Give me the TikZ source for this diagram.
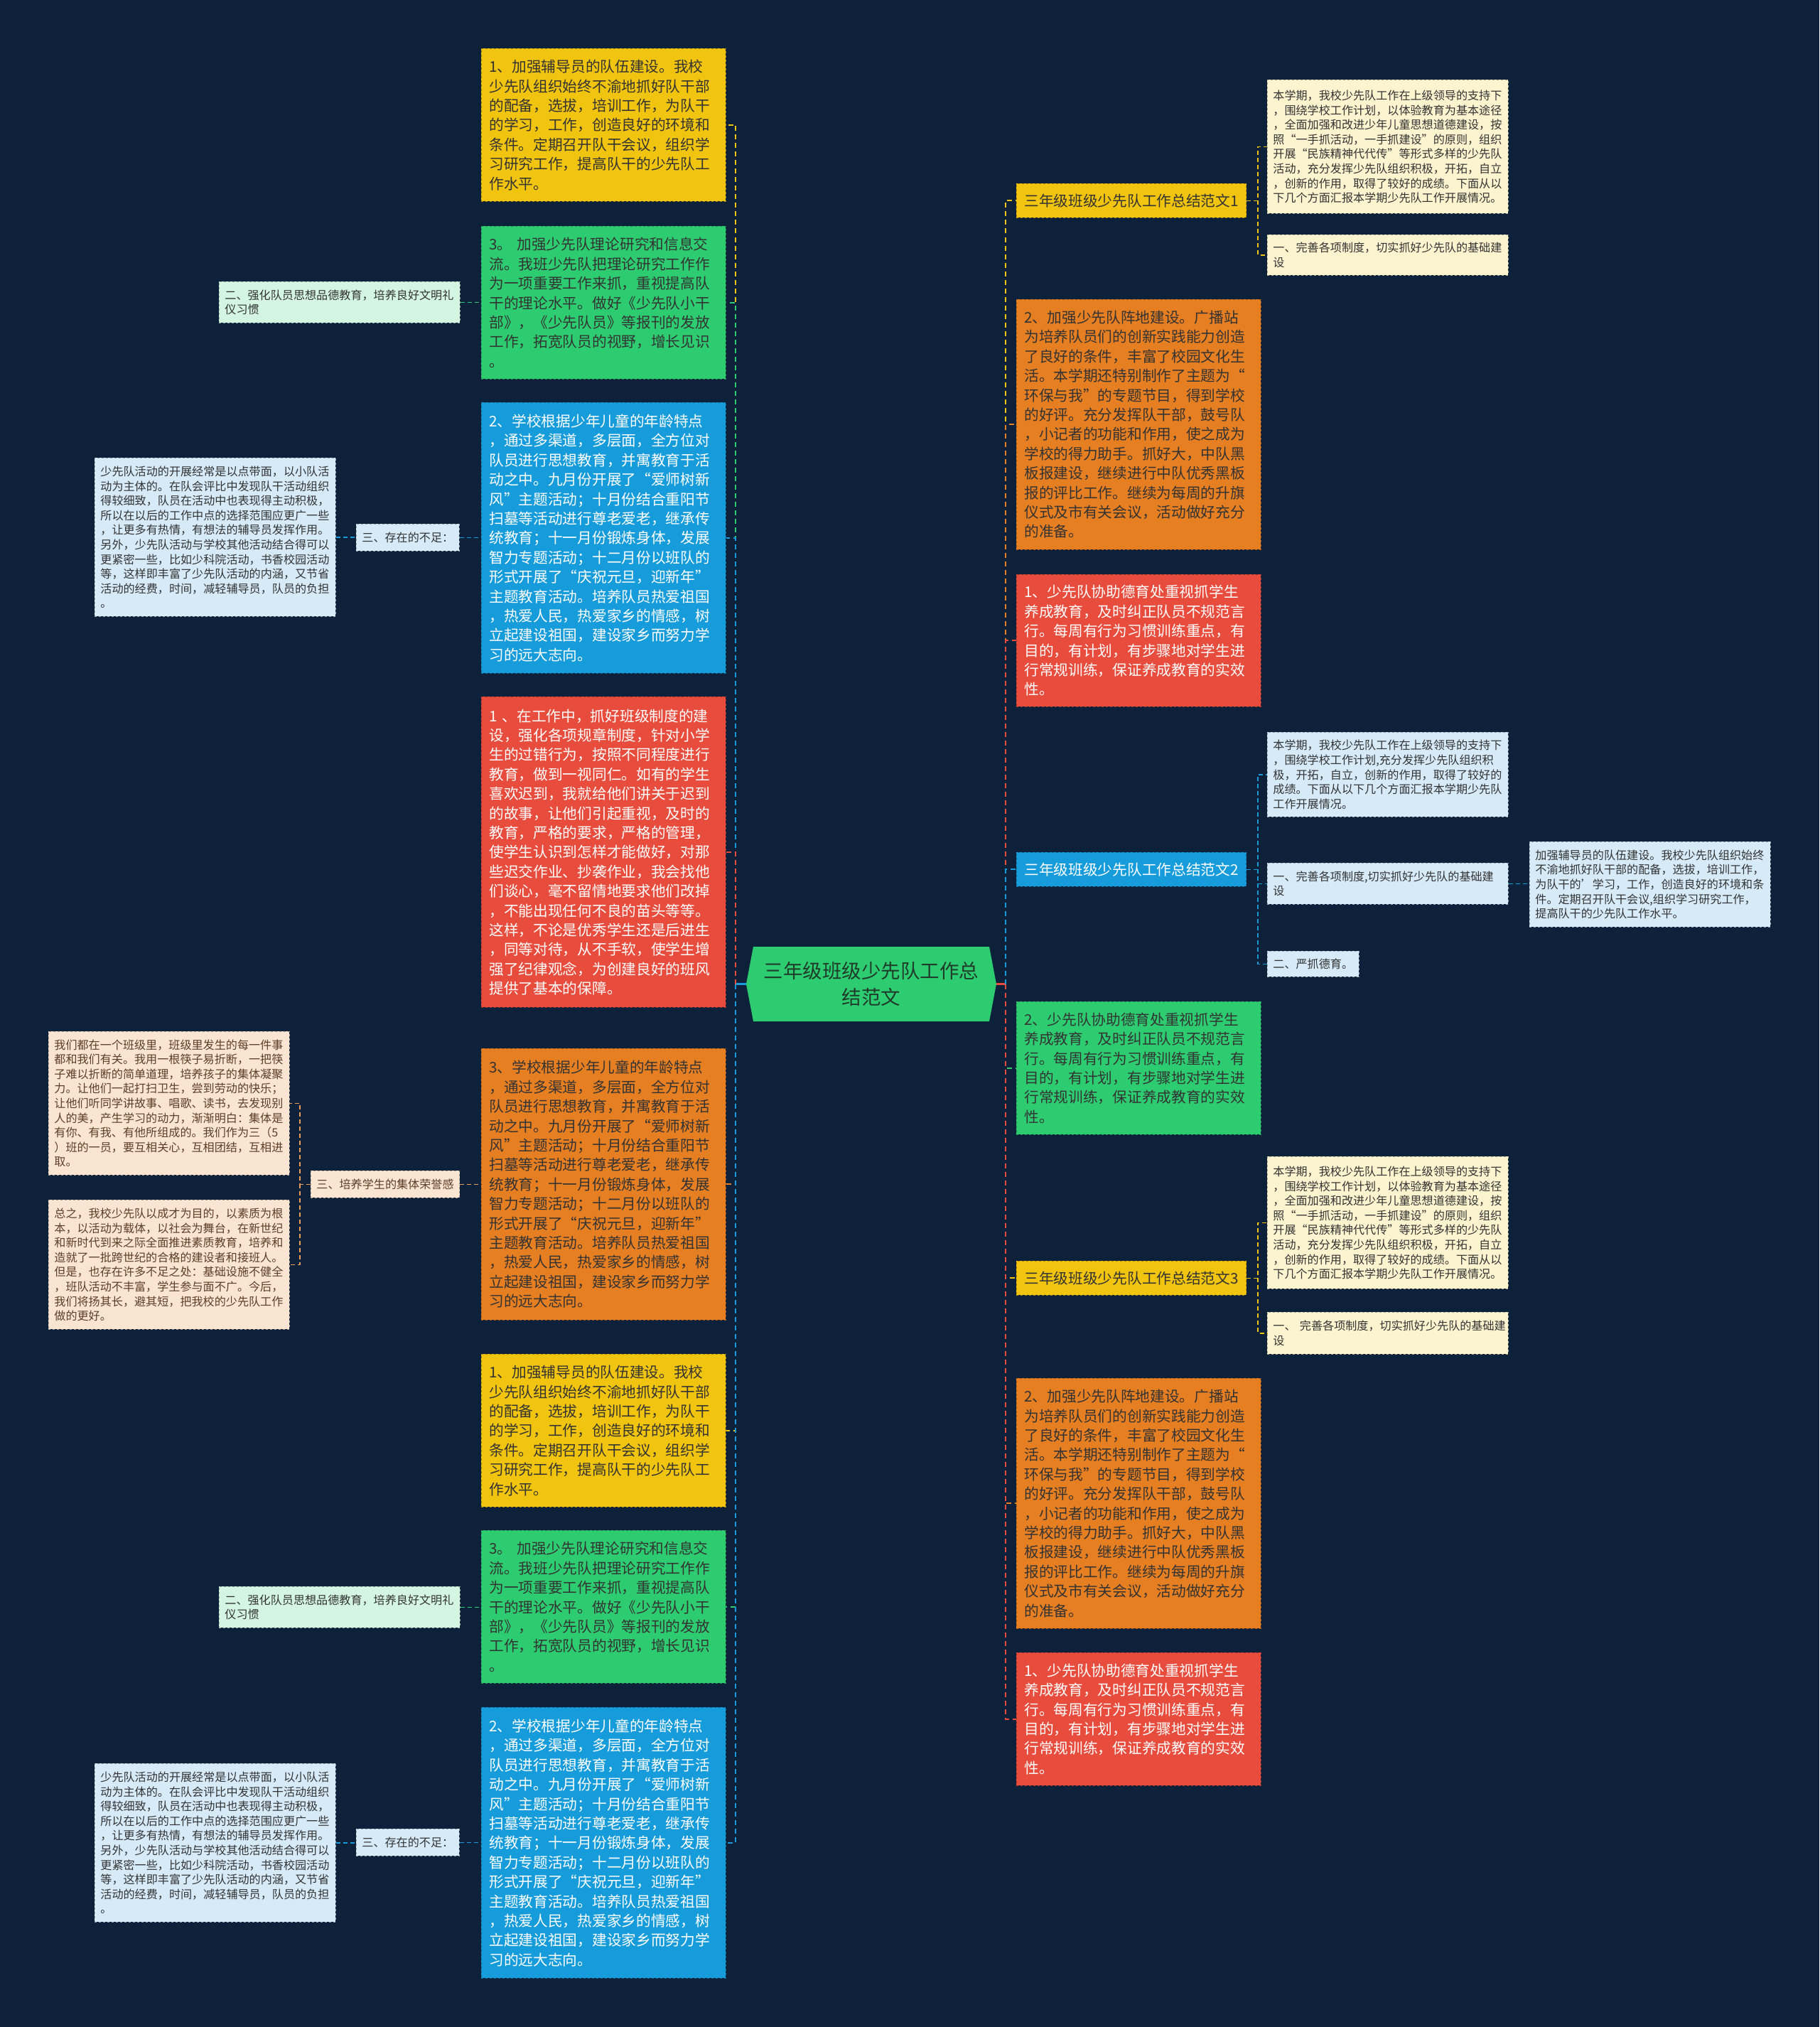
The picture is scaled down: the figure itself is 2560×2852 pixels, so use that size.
\documentclass[tikz,border=0pt]{standalone}
\usepackage{fontspec}
\setmainfont{Noto Sans CJK SC}
\definecolor{navy}{HTML}{0E213B}
\definecolor{sunyel}{HTML}{F1C40F}
\definecolor{leafgrn}{HTML}{2ECC71}
\definecolor{skyblu}{HTML}{169BDB}
\definecolor{tomred}{HTML}{E74C3C}
\definecolor{pumpkin}{HTML}{E67E22}
\definecolor{cream}{HTML}{FCF3CF}
\definecolor{paleblu}{HTML}{D6EAF8}
\definecolor{palegrn}{HTML}{D5F5E3}
\definecolor{peach}{HTML}{FAE5D3}
\definecolor{inkgray}{HTML}{333333}
\definecolor{inkbrown}{HTML}{5B3E2B}
\definecolor{inkgreen}{HTML}{1F3B2A}

\newcommand{\mainsz}{\fontsize{20.7}{27.4}\selectfont}
\newcommand{\smallsz}{\fontsize{16.1}{20.6}\selectfont}
\newcommand{\ctrsz}{\fontsize{27.5}{36.7}\selectfont}

\tikzset{
  bigbox/.style={anchor=north west, fill=#1, draw=#1!70!black, dashed, line width=0.8pt,
    text width=322pt, inner xsep=11pt, inner ysep=0pt, align=left, font=\mainsz, text=inkgray},
  smallbox/.style={anchor=north west, fill=#1, draw=#1!70!black, dashed, line width=0.8pt,
    text width=323pt, inner xsep=8pt, inner ysep=0pt, align=left, font=\smallsz, text=inkgray},
  tagbox/.style={anchor=north west, fill=#1, draw=#1!70!black, dashed, line width=0.8pt,
    inner xsep=8pt, inner ysep=0pt, minimum height=38pt, font=\smallsz, text=inkgray},
  hdrbox/.style={anchor=north west, fill=#1, draw=#1!70!black, dashed, line width=0.8pt,
    minimum width=323pt, minimum height=48pt, inner xsep=11pt, font=\mainsz, text=inkgray},
  link/.style={draw=#1, line width=2pt, dash pattern=on 7pt off 5pt},
  sublink/.style={draw=#1, line width=1.6pt, dash pattern=on 6pt off 4pt},
  stub/.style={draw=#1, line width=2.5pt}
}

\begin{document}
\begin{tikzpicture}[x=1pt, y=-1pt]

% Background
\fill[navy] (0,0) rectangle (2560,2852);
\useasboundingbox (0,0) rectangle (2560,2852);

% Centre topic
\fill[leafgrn] (1050,1384.5) -- (1060,1332) -- (1392,1332) -- (1402,1384.5) -- (1392,1437) -- (1060,1437) -- cycle;
\node[font=\ctrsz, text=inkgreen, align=center, minimum width=352pt, minimum height=105pt] (ctr) at (1226,1384.5)
  {三年级班级少先队工作总\\结范文};
\coordinate (jl) at (1035,1384.5);
\coordinate (jr) at (1415,1384.5);

% Left column
\node[bigbox=sunyel, minimum height=215pt] (L1) at (677,68) {1、加强辅导员的队伍建设。我校\\少先队组织始终不渝地抓好队干部\\的配备，选拔，培训工作，为队干\\的学习，工作，创造良好的环境和\\条件。定期召开队干会议，组织学\\习研究工作，提高队干的少先队工\\作水平。};
\node[bigbox=leafgrn, minimum height=215pt] (L2) at (677,318) {3。 加强少先队理论研究和信息交\\流。我班少先队把理论研究工作作\\为一项重要工作来抓，重视提高队\\干的理论水平。做好《少先队小干\\部》，《少先队员》等报刊的发放\\工作，拓宽队员的视野，增长见识\\。};
\node[bigbox=skyblu, text=white, minimum height=381pt] (L3) at (677,566) {2、学校根据少年儿童的年龄特点\\，通过多渠道，多层面，全方位对\\队员进行思想教育，并寓教育于活\\动之中。九月份开展了“爱师树新\\风”主题活动；十月份结合重阳节\\扫墓等活动进行尊老爱老，继承传\\统教育；十一月份锻炼身体，发展\\智力专题活动；十二月份以班队的\\形式开展了“庆祝元旦，迎新年”\\主题教育活动。培养队员热爱祖国\\，热爱人民，热爱家乡的情感，树\\立起建设祖国，建设家乡而努力学\\习的远大志向。};
\node[bigbox=tomred, text=white, minimum height=437pt] (L4) at (677,980) {1 、在工作中，抓好班级制度的建\\设，强化各项规章制度，针对小学\\生的过错行为，按照不同程度进行\\教育，做到一视同仁。如有的学生\\喜欢迟到，我就给他们讲关于迟到\\的故事，让他们引起重视，及时的\\教育，严格的要求，严格的管理，\\使学生认识到怎样才能做好，对那\\些迟交作业、抄袭作业，我会找他\\们谈心，毫不留情地要求他们改掉\\，不能出现任何不良的苗头等等。\\这样，不论是优秀学生还是后进生\\，同等对待，从不手软，使学生增\\强了纪律观念，为创建良好的班风\\提供了基本的保障。};
\node[bigbox=pumpkin, minimum height=382pt] (L5) at (677,1475) {3、学校根据少年儿童的年龄特点\\，通过多渠道，多层面，全方位对\\队员进行思想教育，并寓教育于活\\动之中。九月份开展了“爱师树新\\风”主题活动；十月份结合重阳节\\扫墓等活动进行尊老爱老，继承传\\统教育；十一月份锻炼身体，发展\\智力专题活动；十二月份以班队的\\形式开展了“庆祝元旦，迎新年”\\主题教育活动。培养队员热爱祖国\\，热爱人民，热爱家乡的情感，树\\立起建设祖国，建设家乡而努力学\\习的远大志向。};
\node[bigbox=sunyel, minimum height=215pt] (L6) at (677,1905) {1、加强辅导员的队伍建设。我校\\少先队组织始终不渝地抓好队干部\\的配备，选拔，培训工作，为队干\\的学习，工作，创造良好的环境和\\条件。定期召开队干会议，组织学\\习研究工作，提高队干的少先队工\\作水平。};
\node[bigbox=leafgrn, minimum height=215pt] (L7) at (677,2153) {3。 加强少先队理论研究和信息交\\流。我班少先队把理论研究工作作\\为一项重要工作来抓，重视提高队\\干的理论水平。做好《少先队小干\\部》，《少先队员》等报刊的发放\\工作，拓宽队员的视野，增长见识\\。};
\node[bigbox=skyblu, text=white, minimum height=381pt] (L8) at (677,2402) {2、学校根据少年儿童的年龄特点\\，通过多渠道，多层面，全方位对\\队员进行思想教育，并寓教育于活\\动之中。九月份开展了“爱师树新\\风”主题活动；十月份结合重阳节\\扫墓等活动进行尊老爱老，继承传\\统教育；十一月份锻炼身体，发展\\智力专题活动；十二月份以班队的\\形式开展了“庆祝元旦，迎新年”\\主题教育活动。培养队员热爱祖国\\，热爱人民，热爱家乡的情感，树\\立起建设祖国，建设家乡而努力学\\习的远大志向。};

% Far left details
\node[smallbox=palegrn, minimum height=58pt] (LA) at (308,396) {二、强化队员思想品德教育，培养良好文明礼\\仪习惯};
\node[tagbox=paleblu] (LB) at (501,737) {三、存在的不足：};
\node[smallbox=paleblu, minimum height=223pt] (LC) at (133,644) {少先队活动的开展经常是以点带面，以小队活\\动为主体的。在队会评比中发现队干活动组织\\得较细致，队员在活动中也表现得主动积极，\\所以在以后的工作中点的选择范围应更广一些\\，让更多有热情，有想法的辅导员发挥作用。\\另外，少先队活动与学校其他活动结合得可以\\更紧密一些，比如少科院活动，书香校园活动\\等，这样即丰富了少先队活动的内涵，又节省\\活动的经费，时间，减轻辅导员，队员的负担\\。};
\node[tagbox=peach, text=inkbrown] (PA) at (437,1647) {三、培养学生的集体荣誉感};
\node[smallbox=peach, text=inkbrown, minimum height=202pt] (PB) at (68,1451) {我们都在一个班级里，班级里发生的每一件事\\都和我们有关。我用一根筷子易折断，一把筷\\子难以折断的简单道理，培养孩子的集体凝聚\\力。让他们一起打扫卫生，尝到劳动的快乐；\\让他们听同学讲故事、唱歌、读书，去发现别\\人的美，产生学习的动力，渐渐明白：集体是\\有你、有我、有他所组成的。我们作为三（5\\）班的一员，要互相关心，互相团结，互相进\\取。};
\node[smallbox=peach, text=inkbrown, minimum height=182pt] (PC) at (68,1688) {总之，我校少先队以成才为目的，以素质为根\\本，以活动为载体，以社会为舞台，在新世纪\\和新时代到来之际全面推进素质教育，培养和\\造就了一批跨世纪的合格的建设者和接班人。\\但是，也存在许多不足之处：基础设施不健全\\，班队活动不丰富，学生参与面不广。今后，\\我们将扬其长，避其短，把我校的少先队工作\\做的更好。};
\node[smallbox=palegrn, minimum height=58pt] (LA2) at (308,2232) {二、强化队员思想品德教育，培养良好文明礼\\仪习惯};
\node[tagbox=paleblu] (LB2) at (501,2573) {三、存在的不足：};
\node[smallbox=paleblu, minimum height=223pt] (LC2) at (133,2481) {少先队活动的开展经常是以点带面，以小队活\\动为主体的。在队会评比中发现队干活动组织\\得较细致，队员在活动中也表现得主动积极，\\所以在以后的工作中点的选择范围应更广一些\\，让更多有热情，有想法的辅导员发挥作用。\\另外，少先队活动与学校其他活动结合得可以\\更紧密一些，比如少科院活动，书香校园活动\\等，这样即丰富了少先队活动的内涵，又节省\\活动的经费，时间，减轻辅导员，队员的负担\\。};

% Right column
\node[hdrbox=sunyel] (R1) at (1430,258) {三年级班级少先队工作总结范文1};
\node[bigbox=pumpkin, minimum height=352pt] (R2) at (1430,421) {2、加强少先队阵地建设。广播站\\为培养队员们的创新实践能力创造\\了良好的条件，丰富了校园文化生\\活。本学期还特别制作了主题为“\\环保与我”的专题节目，得到学校\\的好评。充分发挥队干部，鼓号队\\，小记者的功能和作用，使之成为\\学校的得力助手。抓好大，中队黑\\板报建设，继续进行中队优秀黑板\\报的评比工作。继续为每周的升旗\\仪式及市有关会议，活动做好充分\\的准备。};
\node[bigbox=tomred, text=white, minimum height=186pt] (R3) at (1430,808) {1、少先队协助德育处重视抓学生\\养成教育，及时纠正队员不规范言\\行。每周有行为习惯训练重点，有\\目的，有计划，有步骤地对学生进\\行常规训练，保证养成教育的实效\\性。};
\node[hdrbox=skyblu, text=white] (R4) at (1430,1199) {三年级班级少先队工作总结范文2};
\node[bigbox=leafgrn, minimum height=187pt] (R5) at (1430,1409) {2、少先队协助德育处重视抓学生\\养成教育，及时纠正队员不规范言\\行。每周有行为习惯训练重点，有\\目的，有计划，有步骤地对学生进\\行常规训练，保证养成教育的实效\\性。};
\node[hdrbox=sunyel] (R6) at (1430,1774) {三年级班级少先队工作总结范文3};
\node[bigbox=pumpkin, minimum height=352pt] (R7) at (1430,1939) {2、加强少先队阵地建设。广播站\\为培养队员们的创新实践能力创造\\了良好的条件，丰富了校园文化生\\活。本学期还特别制作了主题为“\\环保与我”的专题节目，得到学校\\的好评。充分发挥队干部，鼓号队\\，小记者的功能和作用，使之成为\\学校的得力助手。抓好大，中队黑\\板报建设，继续进行中队优秀黑板\\报的评比工作。继续为每周的升旗\\仪式及市有关会议，活动做好充分\\的准备。};
\node[bigbox=tomred, text=white, minimum height=187pt] (R8) at (1430,2325) {1、少先队协助德育处重视抓学生\\养成教育，及时纠正队员不规范言\\行。每周有行为习惯训练重点，有\\目的，有计划，有步骤地对学生进\\行常规训练，保证养成教育的实效\\性。};

% Far right details
\node[smallbox=cream, minimum height=188pt] (R1a) at (1783,112) {本学期，我校少先队工作在上级领导的支持下\\，围绕学校工作计划，以体验教育为基本途径\\，全面加强和改进少年儿童思想道德建设，按\\照“一手抓活动，一手抓建设”的原则，组织\\开展“民族精神代代传”等形式多样的少先队\\活动，充分发挥少先队组织积极，开拓，自立\\，创新的作用，取得了较好的成绩。下面从以\\下几个方面汇报本学期少先队工作开展情况。};
\node[smallbox=cream, minimum height=57pt] (R1b) at (1783,330) {一、完善各项制度，切实抓好少先队的基础建\\设};
\node[smallbox=paleblu, minimum height=119pt] (R4a) at (1783,1030) {本学期，我校少先队工作在上级领导的支持下\\，围绕学校工作计划,充分发挥少先队组织积\\极，开拓，自立，创新的作用，取得了较好的\\成绩。下面从以下几个方面汇报本学期少先队\\工作开展情况。};
\node[smallbox=paleblu, minimum height=58pt] (R4b) at (1783,1214) {一、完善各项制度,切实抓好少先队的基础建\\设};
\node[tagbox=paleblu, minimum height=36pt] (R4c) at (1783,1338) {二、严抓德育。};
\node[smallbox=paleblu, minimum height=120pt] (R4d) at (2152,1184) {加强辅导员的队伍建设。我校少先队组织始终\\不渝地抓好队干部的配备，选拔，培训工作，\\为队干的'学习，工作，创造良好的环境和条\\件。定期召开队干会议,组织学习研究工作，\\提高队干的少先队工作水平。};
\node[smallbox=cream, minimum height=186pt] (R6a) at (1783,1627) {本学期，我校少先队工作在上级领导的支持下\\，围绕学校工作计划，以体验教育为基本途径\\，全面加强和改进少年儿童思想道德建设，按\\照“一手抓活动，一手抓建设”的原则，组织\\开展“民族精神代代传”等形式多样的少先队\\活动，充分发挥少先队组织积极，开拓，自立\\，创新的作用，取得了较好的成绩。下面从以\\下几个方面汇报本学期少先队工作开展情况。};
\node[smallbox=cream, minimum height=59pt] (R6b) at (1783,1846) {一、 完善各项制度，切实抓好少先队的基础建\\设};

% Trunk links, left side
\draw[stub=skyblu] (ctr.west) -- (jl);
\draw[link=sunyel] (jl) |- (L1.east);
\draw[link=leafgrn] (jl) |- (L2.east);
\draw[link=skyblu] (jl) |- (L3.east);
\draw[link=tomred] (jl) |- (L4.east);
\draw[link=pumpkin] (jl) |- (L5.east);
\draw[link=sunyel] (jl) |- (L6.east);
\draw[link=leafgrn] (jl) |- (L7.east);
\draw[link=skyblu] (jl) |- (L8.east);

% Trunk links, right side
\draw[stub=tomred] (ctr.east) -- (jr);
\draw[link=sunyel] (jr) |- (R1.west);
\draw[link=pumpkin] (jr) |- (R2.west);
\draw[link=tomred] (jr) |- (R3.west);
\draw[link=skyblu] (jr) |- (R4.west);
\draw[link=leafgrn] (jr) |- (R5.west);
\draw[link=sunyel] (jr) |- (R6.west);
\draw[link=pumpkin] (jr) |- (R7.west);
\draw[link=tomred] (jr) |- (R8.west);

% Detail links
\draw[sublink=leafgrn] (LA.east) -- (LA.east -| L2.west);
\draw[sublink=skyblu] (LB.east) -- (LB.east -| L3.west);
\draw[sublink=skyblu] (LC.east) -- (LC.east -| LB.west);
\draw[sublink=leafgrn] (LA2.east) -- (LA2.east -| L7.west);
\draw[sublink=skyblu] (LB2.east) -- (LB2.east -| L8.west);
\draw[sublink=skyblu] (LC2.east) -- (LC2.east -| LB2.west);
\draw[sublink=pumpkin!75!white] (PA.east) -- (PA.east -| L5.west);
\draw[sublink=pumpkin!75!white] (PA.west) -- ++(-15,0) coordinate (pk) |- (PB.east);
\draw[sublink=pumpkin!75!white] (pk) |- (PC.east);
\draw[sublink=sunyel] (R1.east) -- ++(16,0) coordinate (k1) |- (R1a.west);
\draw[sublink=sunyel] (k1) |- (R1b.west);
\draw[sublink=skyblu] (R4.east) -- ++(16,0) coordinate (k2) |- (R4a.west);
\draw[sublink=skyblu] (k2) |- (R4b.west);
\draw[sublink=skyblu] (k2) |- (R4c.west);
\draw[sublink=skyblu] (R4b.east) -- (R4b.east -| R4d.west);
\draw[sublink=sunyel] (R6.east) -- ++(16,0) coordinate (k3) |- (R6a.west);
\draw[sublink=sunyel] (k3) |- (R6b.west);

\end{tikzpicture}
\end{document}
